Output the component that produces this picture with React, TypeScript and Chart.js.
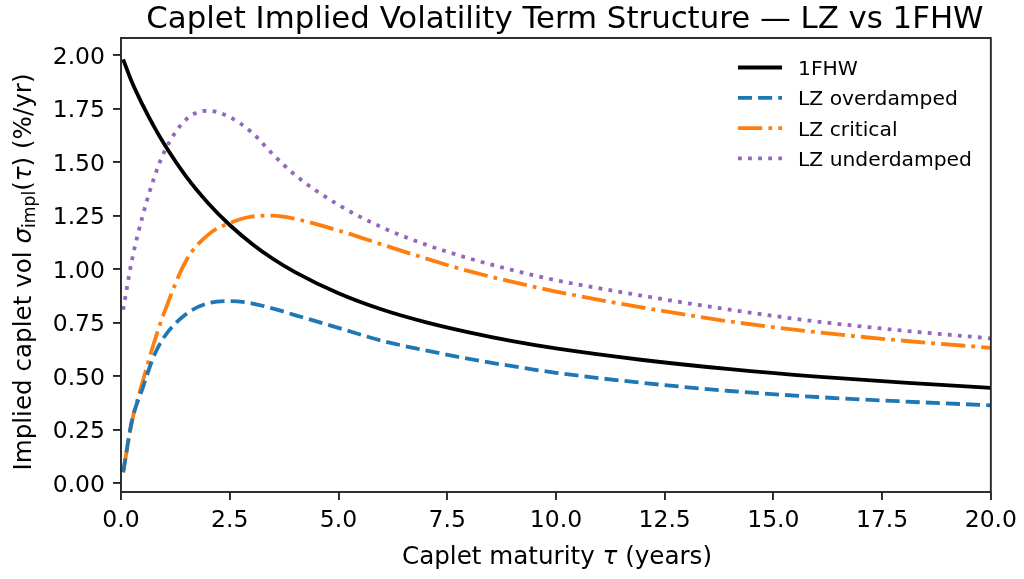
import React, { useEffect, useRef } from 'react';
import { Chart, registerables } from 'chart.js';

Chart.register(...registerables);

// Caplet maturity grid (years)
const tau = [0.05, 0.25, 0.5, 0.75, 1, 1.5, 2, 2.5, 3, 3.5, 4, 5, 6, 7, 8, 9, 10, 12, 14, 16, 18, 20];

// Implied caplet vol (%/yr)
const vol1FHW = [1.98, 1.874, 1.766, 1.669, 1.582, 1.432, 1.309, 1.206, 1.12, 1.047, 0.986, 0.887, 0.811, 0.752, 0.704, 0.663, 0.629, 0.575, 0.532, 0.497, 0.469, 0.445];
const volOverdamped = [0.05, 0.29, 0.445, 0.59, 0.685, 0.79, 0.84, 0.85, 0.84, 0.815, 0.785, 0.725, 0.665, 0.62, 0.58, 0.546, 0.515, 0.468, 0.43, 0.402, 0.381, 0.363];
const volCritical = [0.05, 0.285, 0.475, 0.65, 0.8, 1.04, 1.16, 1.215, 1.245, 1.25, 1.235, 1.18, 1.115, 1.05, 0.99, 0.94, 0.895, 0.82, 0.755, 0.705, 0.665, 0.632];
const volUnderdamped = [0.81, 1.04, 1.25, 1.42, 1.55, 1.7, 1.74, 1.71, 1.64, 1.535, 1.44, 1.3, 1.195, 1.115, 1.05, 0.995, 0.948, 0.875, 0.81, 0.755, 0.712, 0.676];

const xTicks = [0, 2.5, 5, 7.5, 10, 12.5, 15, 17.5, 20];
const yTicks = [0, 0.25, 0.5, 0.75, 1, 1.25, 1.5, 1.75, 2];

const seriesLabels = ['1FHW', 'LZ overdamped', 'LZ critical', 'LZ underdamped'];
const seriesColors = ['#000000', '#1f77b4', '#ff7f0e', '#9467bd'];

const LW = 3.8;
const dashes: number[][] = [
  [],
  [3.7 * LW, 1.6 * LW],
  [6.4 * LW, 1.6 * LW, 1 * LW, 1.6 * LW],
  [1 * LW, 1.65 * LW],
];

const FONT = '"DejaVu Sans", sans-serif';
const SPINE = '#262626';

const decor = {
  id: 'decor',
  afterDraw(chart: any) {
    const { ctx, chartArea: ca } = chart;
    ctx.save();
    // frame
    ctx.strokeStyle = SPINE;
    ctx.lineWidth = 1.9;
    ctx.setLineDash([]);
    ctx.strokeRect(ca.left, ca.top, ca.right - ca.left, ca.bottom - ca.top);

    const cx = (ca.left + ca.right) / 2;
    ctx.fillStyle = '#000';

    // title
    ctx.font = `30.8px ${FONT}`;
    ctx.textAlign = 'center';
    ctx.textBaseline = 'alphabetic';
    ctx.fillText('Caplet Implied Volatility Term Structure \u2014 LZ vs 1FHW', cx + 9, 28);

    const fs = 24.6;
    const normal = `${fs}px ${FONT}`;
    const italic = `italic ${fs}px ${FONT}`;
    const sub = `${fs * 0.7}px ${FONT}`;
    const drawPieces = (pieces: { t: string; f: string; dy?: number }[], x0: number, y0: number) => {
      let total = 0;
      for (const p of pieces) {
        ctx.font = p.f;
        total += ctx.measureText(p.t).width;
      }
      let x = x0 - total / 2;
      ctx.textAlign = 'left';
      for (const p of pieces) {
        ctx.font = p.f;
        ctx.fillText(p.t, x, y0 + (p.dy || 0));
        x += ctx.measureText(p.t).width;
      }
    };
    // x-axis title with italic tau
    drawPieces(
      [
        { t: 'Caplet maturity ', f: normal },
        { t: '\u03c4', f: italic },
        { t: ' (years)', f: normal },
      ],
      557,
      564
    );

    // y-axis title, rotated
    ctx.save();
    ctx.translate(31, 272);
    ctx.rotate(-Math.PI / 2);
    drawPieces(
      [
        { t: 'Implied caplet vol ', f: normal },
        { t: '\u03c3', f: italic },
        { t: 'impl', f: sub, dy: 4 },
        { t: '(', f: normal },
        { t: '\u03c4', f: italic },
        { t: ') (%/yr)', f: normal },
      ],
      0,
      0
    );
    ctx.restore();

    // legend
    const lx0 = 738;
    const lx1 = 782;
    const tx = 798;
    const rowY = [67.5, 97.8, 128.1, 158.4];
    ctx.font = `20.3px ${FONT}`;
    ctx.textAlign = 'left';
    seriesLabels.forEach((lab, i) => {
      const y = rowY[i];
      ctx.strokeStyle = seriesColors[i];
      ctx.lineWidth = LW;
      ctx.lineCap = i === 0 ? 'square' : 'butt';
      ctx.setLineDash(dashes[i]);
      ctx.beginPath();
      ctx.moveTo(lx0 + (i === 0 ? LW / 2 : 0), y);
      ctx.lineTo(lx1 - (i === 0 ? LW / 2 : 0), y);
      ctx.stroke();
      ctx.setLineDash([]);
      ctx.fillStyle = '#000';
      ctx.fillText(lab, tx, y + 7.4);
    });
    ctx.restore();
  },
};

export default function App() {
  const ref = useRef<HTMLCanvasElement | null>(null);

  useEffect(() => {
    if (!ref.current) return;
    const series = [vol1FHW, volOverdamped, volCritical, volUnderdamped];
    const chart = new Chart(ref.current, {
      type: 'line',
      data: {
        datasets: series.map((vals, i) => ({
          label: seriesLabels[i],
          data: tau.map((t, k) => ({ x: t, y: vals[k] })),
          borderColor: seriesColors[i],
          backgroundColor: seriesColors[i],
          borderWidth: LW,
          borderDash: dashes[i],
          borderCapStyle: 'butt',
          borderJoinStyle: 'round',
          pointRadius: 0,
          pointHoverRadius: 0,
          fill: false,
          cubicInterpolationMode: 'monotone',
        })) as any,
      },
      options: {
        animation: false,
        responsive: false,
        devicePixelRatio: 1,
        layout: { padding: { top: 38, right: 32, left: 0, bottom: 0 } },
        plugins: {
          legend: { display: false },
          title: { display: false },
          tooltip: { enabled: false },
        },
        scales: {
          x: {
            type: 'linear',
            min: 0,
            max: 20,
            afterBuildTicks: (scale: any) => {
              scale.ticks = xTicks.map((v) => ({ value: v }));
            },
            afterFit: (scale: any) => {
              scale.height = 87;
            },
            ticks: {
              font: { family: FONT, size: 23.5 },
              color: '#000',
              padding: 7,
              maxRotation: 0,
              autoSkip: false,
              callback: (v: any) => Number(v).toFixed(1),
            },
            grid: {
              display: true,
              drawOnChartArea: false,
              drawTicks: true,
              tickLength: 8,
              color: SPINE,
              lineWidth: 1.9,
            },
            border: { display: false },
          },
          y: {
            type: 'linear',
            min: -0.042,
            max: 2.08,
            afterBuildTicks: (scale: any) => {
              scale.ticks = yTicks.map((v) => ({ value: v }));
            },
            afterFit: (scale: any) => {
              scale.width = 121;
            },
            ticks: {
              font: { family: FONT, size: 23.5 },
              color: '#000',
              padding: 8,
              labelOffset: 2.5,
              autoSkip: false,
              callback: (v: any) => Number(v).toFixed(2),
            },
            grid: {
              display: true,
              drawOnChartArea: false,
              drawTicks: true,
              tickLength: 8,
              color: SPINE,
              lineWidth: 1.9,
            },
            border: { display: false },
          },
        },
      },
      plugins: [decor],
    });
    return () => chart.destroy();
  }, []);

  return (
    <div style={{ position: 'fixed', left: 0, top: 0, width: 1024, height: 579, background: '#fff' }}>
      <canvas ref={ref} width={1024} height={579} style={{ width: 1024, height: 579, display: 'block' }} />
    </div>
  );
}
